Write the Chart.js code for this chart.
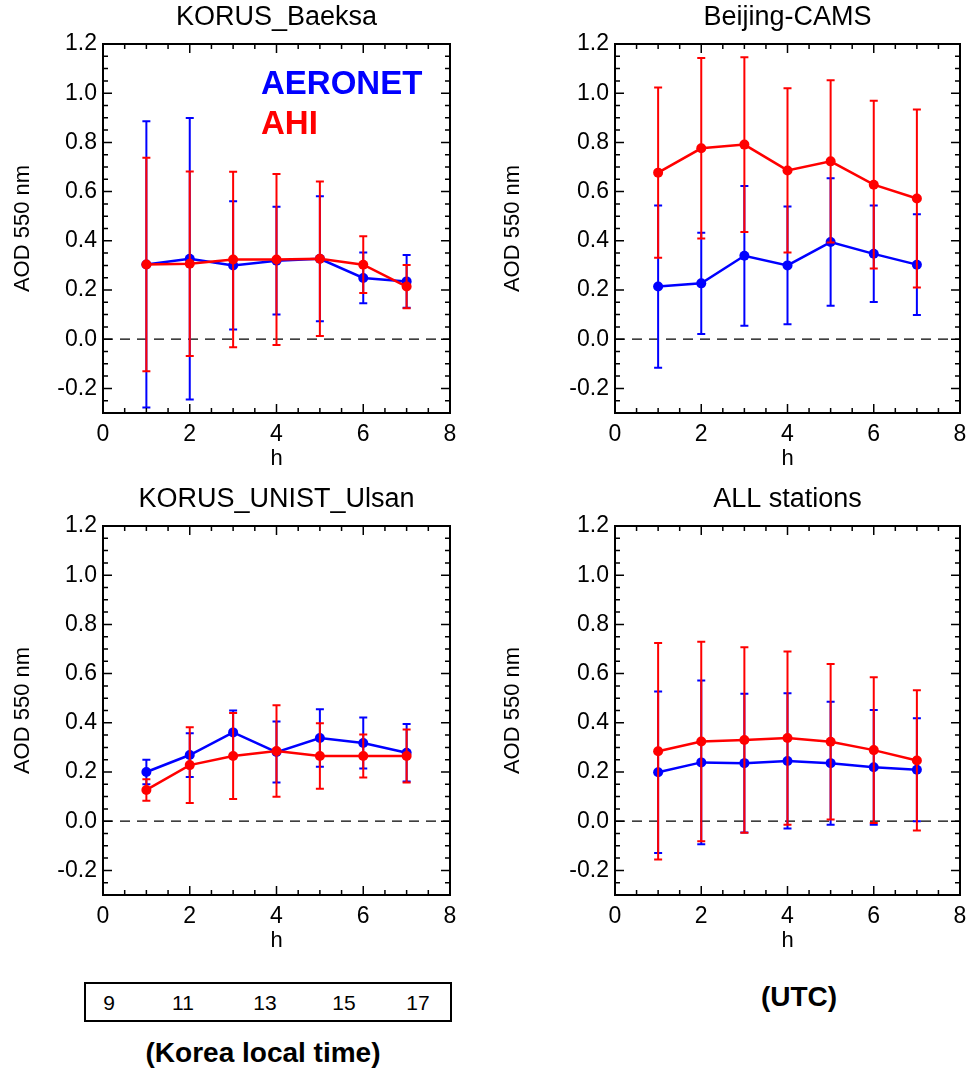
<!DOCTYPE html>
<html>
<head>
<meta charset="utf-8">
<script src="https://cdn.jsdelivr.net/npm/chart.js@4.4.1/dist/chart.umd.min.js"></script>
<style>
  body { margin: 0; background: #fff; }
  #wrap { position: relative; width: 980px; height: 1080px; font-family: "Liberation Sans", Arial, sans-serif; }
  canvas { position: absolute; }
  .t { position: absolute; line-height: 1; white-space: nowrap; }
</style>
</head>
<body>
<div id="wrap">
  <canvas id="c1" width="470" height="470" style="left:0;top:0"></canvas>
  <canvas id="c2" width="490" height="470" style="left:490px;top:0"></canvas>
  <canvas id="c3" width="470" height="470" style="left:0;top:482px"></canvas>
  <canvas id="c4" width="490" height="470" style="left:490px;top:482px"></canvas>

  <div class="t" style="left:261px;top:66px;font-size:33px;font-weight:bold;color:#0000ff">AERONET</div>
  <div class="t" style="left:261px;top:106px;font-size:33px;font-weight:bold;color:#ff0000">AHI</div>

  <div id="localBox" style="position:absolute;left:84px;top:982px;width:368px;height:40px;border:2px solid #000;box-sizing:border-box"></div>
  <div class="t" style="left:263px;top:1039px;font-size:28px;font-weight:bold;transform:translateX(-50%)">(Korea local time)</div>
  <div class="t" style="left:799px;top:983px;font-size:28px;font-weight:bold;transform:translateX(-50%)">(UTC)</div>
</div>

<script>
// hours (UTC) and axis ticks
const hours = [1, 2, 3, 4, 5, 6, 7];
const xTicks = [0, 2, 4, 6, 8];
const yTicks = [-0.2, 0, 0.2, 0.4, 0.6, 0.8, 1.0, 1.2];
const localTimes = ['9', '11', '13', '15', '17'];
const localTimeX = [109, 183, 265, 344, 418];

// KORUS_Baeksa
const baeksaAeronet   = [0.304, 0.327, 0.300, 0.319, 0.327, 0.249, 0.235];
const baeksaAeronetSd = [0.582, 0.572, 0.261, 0.219, 0.254, 0.103, 0.107];
const baeksaAhi       = [0.304, 0.307, 0.324, 0.324, 0.327, 0.303, 0.214];
const baeksaAhiSd     = [0.434, 0.375, 0.357, 0.348, 0.314, 0.115, 0.088];

// Beijing-CAMS
const beijingAeronet   = [0.214, 0.227, 0.339, 0.300, 0.395, 0.347, 0.303];
const beijingAeronetSd = [0.330, 0.206, 0.284, 0.239, 0.259, 0.196, 0.205];
const beijingAhi       = [0.677, 0.776, 0.791, 0.686, 0.723, 0.628, 0.572];
const beijingAhiSd     = [0.346, 0.367, 0.355, 0.334, 0.330, 0.341, 0.362];

// KORUS_UNIST_Ulsan
const ulsanAeronet   = [0.200, 0.269, 0.361, 0.281, 0.338, 0.318, 0.278];
const ulsanAeronetSd = [0.050, 0.089, 0.089, 0.124, 0.117, 0.104, 0.117];
const ulsanAhi       = [0.127, 0.228, 0.265, 0.285, 0.265, 0.265, 0.265];
const ulsanAhiSd     = [0.044, 0.154, 0.175, 0.186, 0.133, 0.087, 0.108];

// ALL stations
const allAeronet   = [0.199, 0.239, 0.236, 0.245, 0.236, 0.219, 0.209];
const allAeronetSd = [0.328, 0.333, 0.282, 0.275, 0.250, 0.233, 0.209];
const allAhi       = [0.284, 0.324, 0.330, 0.338, 0.323, 0.289, 0.247];
const allAhiSd     = [0.440, 0.405, 0.377, 0.352, 0.316, 0.296, 0.285];

Chart.defaults.font.family = '"Liberation Sans", Arial, sans-serif';
Chart.defaults.color = '#000';

// local time labels in the box under the left panel
localTimes.forEach((txt, i) => {
  const d = document.createElement('div');
  d.className = 't';
  d.style.cssText = 'left:' + localTimeX[i] + 'px;top:992px;font-size:21px;transform:translateX(-50%)';
  d.textContent = txt;
  document.getElementById('wrap').appendChild(d);
});

// zero line, error bars, framed box with inward ticks
const framePlugin = {
  id: 'framePlugin',
  beforeDatasetsDraw(chart) {
    const { ctx, chartArea: a, scales } = chart;
    const y0 = scales.y.getPixelForValue(0);
    ctx.save();
    ctx.strokeStyle = '#000';
    ctx.lineWidth = 1.3;
    ctx.setLineDash([10, 7]);
    ctx.beginPath();
    ctx.moveTo(a.left, y0);
    ctx.lineTo(a.right, y0);
    ctx.stroke();
    ctx.restore();
  },
  beforeDatasetDraw(chart, args) {
    const ds = chart.data.datasets[args.index];
    if (!ds.errors) return;
    const { ctx, scales } = chart;
    ctx.save();
    ctx.strokeStyle = ds.borderColor;
    ctx.lineWidth = 2;
    ds.data.forEach((p, i) => {
      const x = scales.x.getPixelForValue(p.x);
      const yHi = scales.y.getPixelForValue(p.y + ds.errors[i]);
      const yLo = scales.y.getPixelForValue(p.y - ds.errors[i]);
      ctx.beginPath();
      ctx.moveTo(x, yHi); ctx.lineTo(x, yLo);
      ctx.moveTo(x - 4, yHi); ctx.lineTo(x + 4, yHi);
      ctx.moveTo(x - 4, yLo); ctx.lineTo(x + 4, yLo);
      ctx.stroke();
    });
    ctx.restore();
  },
  afterDraw(chart) {
    const { ctx, chartArea: a, scales } = chart;
    ctx.save();
    ctx.strokeStyle = '#000';
    ctx.lineWidth = 2;
    ctx.strokeRect(a.left, a.top, a.right - a.left, a.bottom - a.top);
    ctx.lineWidth = 1.5;
    ctx.beginPath();
    for (let k = 0; k <= 16; k++) {
      const x = scales.x.getPixelForValue(k * 0.5);
      const len = k % 4 === 0 ? 9 : 5;
      ctx.moveTo(x, a.bottom); ctx.lineTo(x, a.bottom - len);
      ctx.moveTo(x, a.top); ctx.lineTo(x, a.top + len);
    }
    for (let k = -6; k <= 24; k++) {
      const y = scales.y.getPixelForValue(k * 0.05);
      const len = k % 4 === 0 ? 9 : 5;
      ctx.moveTo(a.left, y); ctx.lineTo(a.left + len, y);
      ctx.moveTo(a.right, y); ctx.lineTo(a.right - len, y);
    }
    ctx.stroke();
    ctx.restore();
  }
};

function makePanel(id, title, aeronet, aeronetSd, ahi, ahiSd, yWidth) {
  new Chart(document.getElementById(id), {
    type: 'line',
    data: {
      datasets: [
        {
          label: 'AERONET',
          data: aeronet.map((v, i) => ({ x: hours[i], y: v })),
          errors: aeronetSd,
          borderColor: '#0000ff',
          backgroundColor: '#0000ff',
          borderWidth: 2.5,
          pointRadius: 5,
          pointBorderWidth: 0,
          order: 1
        },
        {
          label: 'AHI',
          data: ahi.map((v, i) => ({ x: hours[i], y: v })),
          errors: ahiSd,
          borderColor: '#ff0000',
          backgroundColor: '#ff0000',
          borderWidth: 2.5,
          pointRadius: 5,
          pointBorderWidth: 0,
          order: 0
        }
      ]
    },
    options: {
      responsive: false,
      animation: false,
      layout: { padding: { top: 0, right: 20, bottom: 0, left: 0 } },
      plugins: {
        legend: { display: false },
        tooltip: { enabled: false },
        title: {
          display: true,
          text: title,
          fullSize: false,
          font: { size: 27, weight: 'normal', lineHeight: 1.2 },
          padding: { top: 1, bottom: 10.6 }
        }
      },
      scales: {
        x: {
          type: 'linear',
          min: 0,
          max: 8,
          afterBuildTicks: s => { s.ticks = xTicks.map(v => ({ value: v })); },
          afterFit: s => { s.height = 57; },
          grid: { display: false, drawTicks: false },
          border: { display: false },
          ticks: { font: { size: 23 }, padding: 8 },
          title: { display: true, text: 'h', font: { size: 22, lineHeight: 1.0 }, padding: { top: 0, bottom: 0 } }
        },
        y: {
          type: 'linear',
          min: -0.3,
          max: 1.2,
          afterBuildTicks: s => { s.ticks = yTicks.map(v => ({ value: v })); },
          afterFit: s => { s.width = yWidth; },
          grid: { display: false, drawTicks: false },
          border: { display: false },
          ticks: { font: { size: 23 }, padding: 6, callback: v => v.toFixed(1) },
          title: { display: true, text: 'AOD 550 nm', font: { size: 22 }, padding: { top: 10, bottom: 0 } }
        }
      }
    },
    plugins: [framePlugin]
  });
}

makePanel('c1', 'KORUS_Baeksa', baeksaAeronet, baeksaAeronetSd, baeksaAhi, baeksaAhiSd, 103);
makePanel('c2', 'Beijing-CAMS', beijingAeronet, beijingAeronetSd, beijingAhi, beijingAhiSd, 125);
makePanel('c3', 'KORUS_UNIST_Ulsan', ulsanAeronet, ulsanAeronetSd, ulsanAhi, ulsanAhiSd, 103);
makePanel('c4', 'ALL stations', allAeronet, allAeronetSd, allAhi, allAhiSd, 125);
</script>
</body>
</html>
